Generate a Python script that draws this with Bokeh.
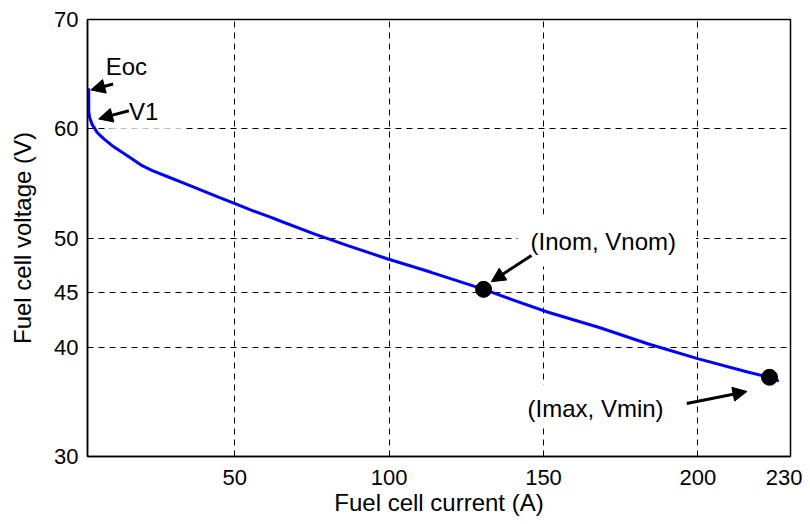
from bokeh.plotting import figure
from bokeh.models import Label, Arrow, NormalHead, FixedTicker
from bokeh.embed import file_html
from bokeh.resources import INLINE

# Polarization curve (current in A, voltage in V)
current = [2.7, 2.7, 3.0, 3.8, 5.4, 7.6, 10.3, 13.5, 16.8, 20.0, 23.3, 28.7, 34.1,
           39.5, 44.9, 50.3, 55.7, 61.1, 65.8, 75.7, 86.6, 99.6, 113.6, 130.7,
           140.7, 151.5, 167.8, 184.0, 200.2, 216.4, 223.2, 226.2]
voltage = [63.7, 61.6, 61.04, 60.4, 59.67, 59.07, 58.45, 57.84, 57.24, 56.62, 56.17,
           55.56, 54.95, 54.34, 53.72, 53.12, 52.51, 51.96, 51.44, 50.37, 49.3, 48.08,
           46.86, 45.3, 44.27, 43.2, 41.83, 40.3, 38.94, 37.71, 37.25, 36.9]

# Marked operating points
points_i = [130.6, 223.2]
points_v = [45.3, 37.25]

x_ticks = [50, 100, 150, 200, 230]
y_ticks = [30, 40, 45, 50, 60, 70]
x_grid = [50, 100, 150, 200]
y_grid = [40, 45, 50, 60]

# annotation texts and their anchor positions (data units)
ann_text = ["Eoc", "V1", "(Inom, Vnom)", "(Imax, Vmin)"]
ann_x = [14.9, 21.5, 170.5, 169.3]
ann_y = [65.7, 61.5, 49.76, 34.67]
# arrows: tail -> tip (data units)
arr_x0 = [10.6, 15.7, 146.1, 196.4]
arr_y0 = [64.1, 61.65, 48.4, 34.85]
arr_x1 = [3.4, 5.9, 133.1, 215.9]
arr_y1 = [63.55, 60.9, 46.0, 35.95]

FONT = "Liberation Sans"

p = figure(frame_width=703, frame_height=437,
           x_range=(2.3, 230), y_range=(30, 70),
           output_backend="svg", toolbar_location=None,
           min_border_left=87, min_border_right=12,
           min_border_top=19, min_border_bottom=52,
           background_fill_color="white", border_fill_color="white")

p.outline_line_color = "black"
p.outline_line_width = 1.5

p.xaxis.ticker = FixedTicker(ticks=x_ticks)
p.yaxis.ticker = FixedTicker(ticks=y_ticks)
p.xgrid.ticker = FixedTicker(ticks=x_grid)
p.ygrid.ticker = FixedTicker(ticks=y_grid)
for g in (p.xgrid, p.ygrid):
    g.grid_line_color = "black"
    g.grid_line_dash = "6 5"
    g.grid_line_width = 1

for ax in (p.xaxis, p.yaxis):
    ax.major_tick_in = 5
    ax.major_tick_out = 0
    ax.minor_tick_line_color = None
    ax.axis_line_color = "black"
    ax.axis_line_width = 1.5
    ax.major_tick_line_color = "black"
    ax.major_label_text_font = FONT
    ax.major_label_text_font_size = "22px"
    ax.major_label_text_color = "black"
    ax.axis_label_text_font = FONT
    ax.axis_label_text_font_size = "24px"
    ax.axis_label_text_font_style = "normal"
    ax.axis_label_text_color = "black"

p.xaxis.axis_label = "Fuel cell current (A)"
p.yaxis.axis_label = "Fuel cell voltage (V)"
p.xaxis.major_label_standoff = 13
p.xaxis.axis_label_standoff = 1
p.yaxis.major_label_standoff = 9
p.yaxis.axis_label_standoff = 15

p.line(current, voltage, line_color="#0000ff", line_width=3)
p.scatter(points_i, points_v, size=16, fill_color="black", line_color="black")

pads = [dict(left=0, right=0, top=0, bottom=0),
        dict(left=19, right=25, top=2, bottom=4),
        dict(left=13, right=20, top=13, bottom=12),
        dict(left=13, right=28, top=11, bottom=4)]
for t, x, y, pd in zip(ann_text, ann_x, ann_y, pads):
    lab = Label(x=x, y=y, text=t, text_font=FONT, text_font_size="24px",
                text_align="center", text_baseline="middle", text_color="black",
                background_fill_color="white" if t != "Eoc" else None,
                padding=pd)
    p.add_layout(lab)

for x0, y0, x1, y1 in zip(arr_x0, arr_y0, arr_x1, arr_y1):
    p.add_layout(Arrow(end=NormalHead(size=14, fill_color="black", line_color="black"),
                       x_start=x0, y_start=y0, x_end=x1, y_end=y1,
                       line_color="black", line_width=3))

open("out.html", "w").write(file_html(p, INLINE))
